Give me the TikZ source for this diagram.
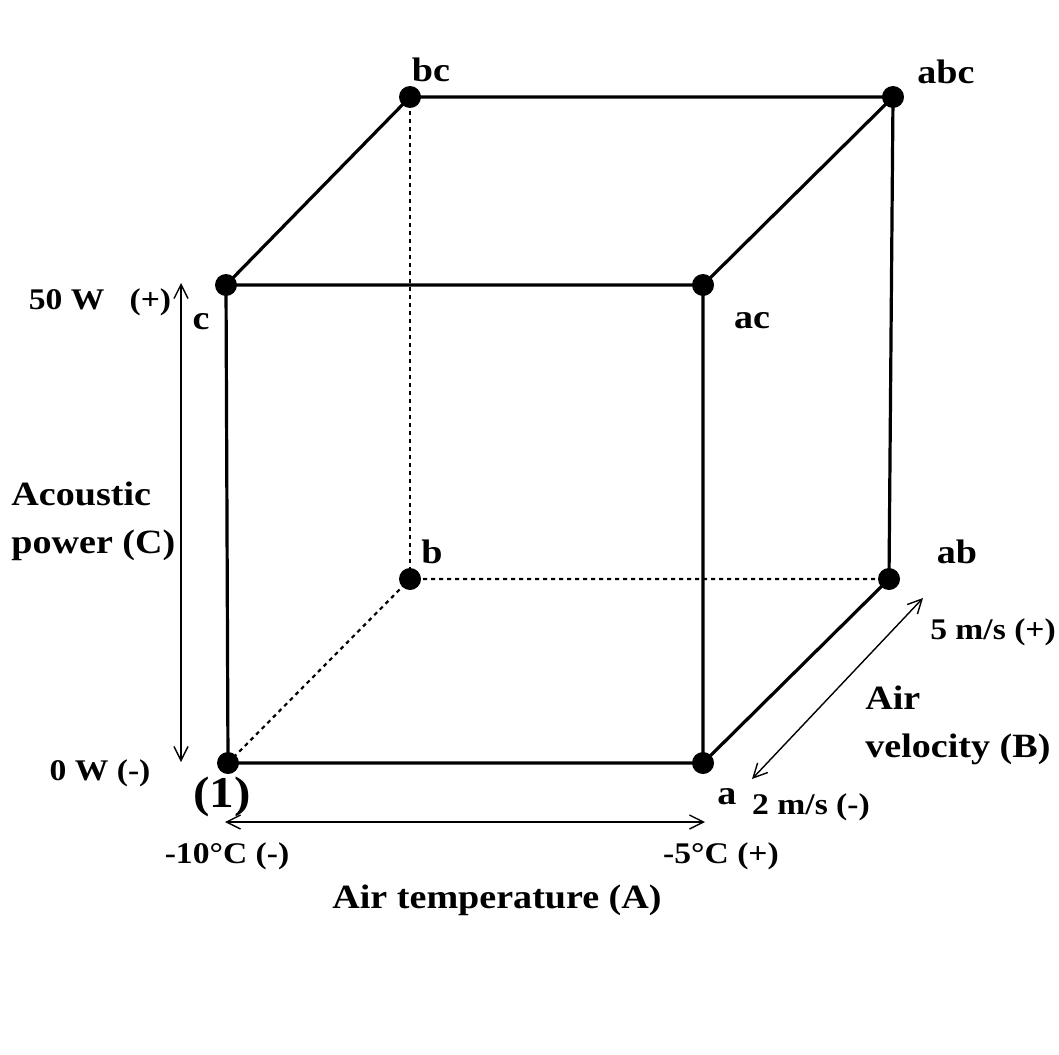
\documentclass[tikz,border=0pt]{standalone}
\usepackage{fontspec}
\setmainfont{Liberation Serif}[FakeStretch=1.12]
\usetikzlibrary{arrows.meta}
\begin{document}
\begin{tikzpicture}[x=0.5pt,y=-0.5pt,
  edge/.style={line width=1.6pt},
  hidden/.style={line width=1.1pt,dash pattern=on 2pt off 2pt},
  vtx/.style={circle,fill=black,inner sep=0pt,minimum size=11pt},
  dim/.style={line width=0.7pt,{Straight Barb[length=7pt,width=7pt]}-{Straight Barb[length=7pt,width=7pt]}},
  lbl/.style={font=\fontsize{17}{20}\selectfont\bfseries,inner sep=0pt},
  val/.style={font=\fontsize{15}{18}\selectfont\bfseries,inner sep=0pt},
  big/.style={font=\fontsize{22}{25}\selectfont\bfseries,inner sep=0pt}]
\useasboundingbox[fill=white] (0,0) rectangle (1059,1054);
% vertices
\node[vtx] (o)   at (228,763) {};
\node[vtx] (a)   at (703,763) {};
\node[vtx] (c)   at (226,285) {};
\node[vtx] (ac)  at (703,285) {};
\node[vtx] (b)   at (410,579) {};
\node[vtx] (ab)  at (889,579) {};
\node[vtx] (bc)  at (410,97) {};
\node[vtx] (abc) at (893,97) {};
% visible edges
\draw[edge] (o.center) -- (a.center) -- (ac.center) -- (c.center) -- cycle;
\draw[edge] (c.center) -- (bc.center) -- (abc.center) -- (ac.center);
\draw[edge] (abc.center) -- (ab.center) -- (a.center);
% hidden edges
\draw[hidden] (o.center) -- (b.center) -- (ab.center);
\draw[hidden] (b.center) -- (bc.center);
% dimension arrows
\coordinate (vt) at (181,283);
\coordinate (vb) at (181,762);
\draw[dim] (vt) -- (vb);
\coordinate (hl) at (225,822);
\coordinate (hr) at (705,822);
\draw[dim] (hl) -- (hr);
\coordinate (dl) at (752,779);
\coordinate (du) at (923,598);
\draw[dim] (dl) -- (du);
% vertex labels
\node[lbl] (tbc)  at (431,70) {bc};
\node[lbl] (tabc) at (946,72) {abc};
\node[lbl] (tc)   at (201,322) {c};
\node[lbl] (tac)  at (752,321) {ac};
\node[lbl] (tb)   at (432,552) {b};
\node[lbl] (tab)  at (957,552) {ab};
\node[lbl] (ta)   at (727,797) {a};
\node[big] (t1)   at (222,797) {(1)};
% axis labels
\node[val] (c50) at (100,302) {50 W\ \ \ (+)};
\node[val] (c0)  at (100,773) {0 W (-)};
\node[lbl,align=left,anchor=west] (cax) at (11,521) {Acoustic\\[4pt]power (C)};
\node[val] (b5)  at (993,632) {5 m/s (+)};
\node[val] (b2)  at (811,807) {2 m/s (-)};
\node[lbl,align=left,anchor=west] (bax) at (865,725) {Air\\[4pt]velocity (B)};
\node[val] (am)  at (227,856) {-10°C (-)};
\node[val] (ap)  at (721,856) {-5°C (+)};
\node[lbl] (aax) at (497,900) {Air temperature (A)};
\end{tikzpicture}
\end{document}
